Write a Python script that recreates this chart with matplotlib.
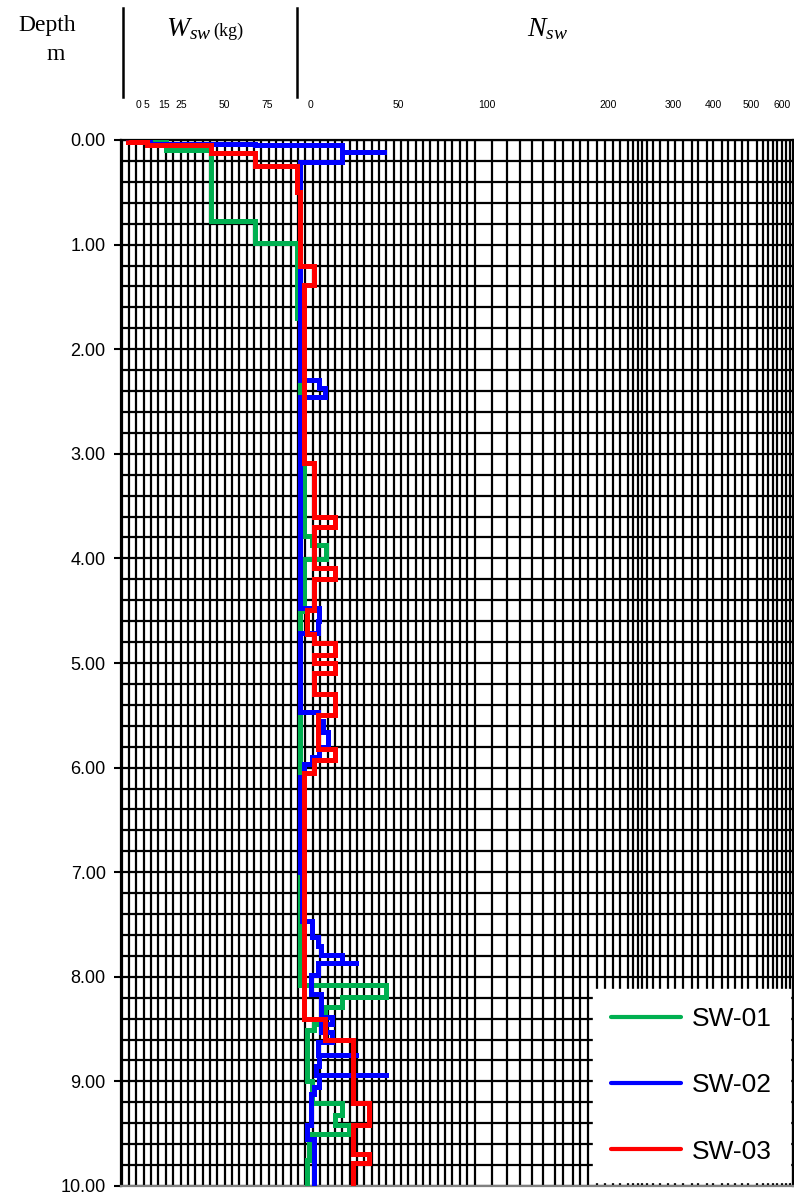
import numpy as np
import matplotlib
matplotlib.use("Agg")
import matplotlib.pyplot as plt
from matplotlib.lines import Line2D
from matplotlib.transforms import ScaledTranslation

# -----------------------------
# Swedish weight sounding data
# depth boundaries (m), W_sw load (kg), N_sw half-turns per metre
# -----------------------------
sw01_depth = [0.00, 0.00, 0.10, 0.77, 0.98, 1.70, 3.10, 3.79, 3.87, 4.01, 4.50,
              8.08, 8.19, 8.29, 8.45, 8.51, 9.00, 9.21, 9.32, 9.42, 9.50, 9.75, 10.00]
sw01_wsw = [12, 22, 48, 74, 98, 100, 100, 100, 100, 100, 100,
            100, 100, 100, 100, 100, 100, 100, 100, 100, 100, 100]
sw01_nsw = [0, 0, 0, 0, 0, 0, 2, 7, 15, 2, 0,
            49, 24, 14, 8, 4, 7, 24, 20, 28, 5, 4]

sw02_depth = [0.00, 0.01, 0.04, 0.05, 0.11, 0.11, 0.21, 2.29, 2.37, 2.46, 4.47,
              4.60, 4.71, 5.47, 5.55, 5.66, 5.80, 5.90, 5.97, 6.09, 7.00, 7.47,
              7.62, 7.71, 7.79, 7.87, 7.87, 7.98, 8.16, 8.38, 8.45, 8.53, 8.62,
              8.75, 8.75, 8.85, 8.94, 8.94, 9.05, 9.12, 9.42, 9.55, 10.00]
sw02_wsw = [0, 13, 74, 100, 100, 100, 100, 100, 100, 100,
            100, 100, 100, 100, 100, 100, 100, 100, 100, 100, 100,
            100, 100, 100, 100, 100, 100, 100, 100, 100, 100, 100,
            100, 100, 100, 100, 100, 100, 100, 100, 100, 100]
sw02_nsw = [0, 0, 0, 24, 49, 24, 0, 11, 14, 0,
            11, 10, 0, 10, 13, 16, 11, 7, 2, 0, 1,
            7, 10, 12, 24, 33, 10, 6, 12, 18, 12, 18,
            10, 33, 11, 9, 50, 11, 8, 6, 4, 8]

sw03_depth = [0.00, 0.02, 0.05, 0.125, 0.25, 0.50, 1.20, 1.39, 3.09, 3.60, 3.70,
              4.09, 4.20, 4.49, 4.72, 4.81, 4.92, 5.00, 5.10, 5.30, 5.50, 5.82,
              5.93, 6.05, 8.40, 8.60, 9.21, 9.42, 9.69, 9.78, 10.00]
sw03_wsw = [0, 11, 48, 74, 98, 100, 100, 100, 100, 100,
            100, 100, 100, 100, 100, 100, 100, 100, 100, 100, 100,
            100, 100, 100, 100, 100, 100, 100, 100, 100]
sw03_nsw = [0, 0, 0, 0, 0, 0, 8, 2, 8, 20,
            8, 20, 8, 4, 8, 20, 8, 20, 8, 20, 10,
            20, 8, 2, 14, 30, 39, 30, 39, 30]

series = [
    ("SW-01", sw01_depth, sw01_wsw, sw01_nsw, "#00B050"),
    ("SW-02", sw02_depth, sw02_wsw, sw02_nsw, "#0000FF"),
    ("SW-03", sw03_depth, sw03_wsw, sw03_nsw, "#FF0000"),
]

# top scale labels: W_sw (kg) then N_sw, on one combined axis (W + N)
wsw_ticks = [0, 5, 15, 25, 50, 75]
nsw_ticks = [0, 50, 100, 200, 300, 400, 500, 600]

# -----------------------------
# Figure layout (pixels)
# -----------------------------
FW, FH, DPI = 794, 1196, 100
L, R, T, B = 121, 793, 140, 1186

plt.rcParams["font.family"] = ["Liberation Sans", "DejaVu Sans"]
plt.rcParams["mathtext.fontset"] = "custom"
plt.rcParams["mathtext.rm"] = "Liberation Serif"
plt.rcParams["mathtext.it"] = "Liberation Serif:italic"

fig = plt.figure(figsize=(FW / DPI, FH / DPI), dpi=DPI)
ax = fig.add_axes([L / FW, 1 - B / FH, (R - L) / FW, (B - T) / FH])

# piecewise combined scale: W_sw 0..100 kg, then N_sw compressed towards 600
C_ANCHOR = [-4.07, 0, 100, 150, 200, 300, 400, 500, 600, 700, 768]
PX_ANCHOR = [121, 128, 300, 388, 477, 598, 663, 703, 741, 772, 793]


def fwd(c):
    return np.interp(c, C_ANCHOR, PX_ANCHOR)


def inv(p):
    return np.interp(p, PX_ANCHOR, C_ANCHOR)


ax.set_xscale("function", functions=(fwd, inv))
ax.set_xlim(C_ANCHOR[0], C_ANCHOR[-1])
ax.set_ylim(10, 0)

# grid
grid_px = list(np.arange(121.7, 478, 7.35)) + [
    492, 507, 520, 532, 543, 555, 563, 573, 580, 588, 597, 605, 613, 620, 628,
    633, 638, 642, 647, 653, 660, 668, 675, 683, 692, 698, 707, 713, 722, 728,
    735, 742, 748, 757, 763, 768, 773, 777, 782, 786, 790]
grid_frac = [(p - L) / (R - L) for p in grid_px]
ax.vlines(grid_frac, 0, 1, transform=ax.transAxes, colors="black", lw=1.6, zorder=1)
ax.hlines(np.arange(0, 10.01, 0.2), 0, 1, transform=ax.get_yaxis_transform(),
          colors="black", lw=1.6, zorder=1)

# step profiles
for name, depth, wsw, nsw, color in series:
    xs, ys = [], []
    for i in range(len(wsw)):
        c = wsw[i] + nsw[i]
        xs += [c, c]
        ys += [depth[i], depth[i + 1]]
    ax.plot(xs, ys, color=color, lw=3.6, label=name, zorder=3,
            solid_joinstyle="miter", solid_capstyle="butt")

# axes cosmetics
ax.set_xticks([])
ax.set_yticks(np.arange(0, 11, 1))
ax.set_yticklabels([f"{v:.2f}" for v in np.arange(0, 11, 1)])
ax.tick_params(axis="y", length=5, width=1.5, pad=6, labelsize=13)
for s in ax.spines.values():
    s.set_linewidth(1.6)
    s.set_color("black")
ax.spines["bottom"].set_color("#808080")

# top scale labels, nudged right of their positions
shift = ScaledTranslation(0.10, 0, fig.dpi_scale_trans)
top_trans = ax.get_xaxis_transform() + shift
top_vals = wsw_ticks + [100 + n for n in nsw_ticks]
top_labels = [str(v) for v in wsw_ticks] + [str(n) for n in nsw_ticks]
for v, lab in zip(top_vals, top_labels):
    ax.text(v, 1 + (140 - 105.5) / (B - T), lab, transform=top_trans,
            ha="center", va="center", fontsize=7.5)

# header
def fx(px):
    return px / FW


def fy(py):
    return 1 - py / FH


fig.text(fx(47), fy(31), "Depth", ha="center", va="baseline",
         family="Liberation Serif", fontsize=17)
fig.text(fx(56), fy(60), "m", ha="center", va="baseline",
         family="Liberation Serif", fontsize=17)
fig.text(fx(166), fy(36), r"$W_{sw}$", ha="left", va="baseline", fontsize=20)
fig.text(fx(213), fy(36), "(kg)", ha="left", va="baseline",
         family="Liberation Serif", fontsize=13)
fig.text(fx(527), fy(36), r"$N_{sw}$", ha="left", va="baseline", fontsize=20)

for xp in (123, 297):
    fig.add_artist(Line2D([fx(xp), fx(xp)], [fy(8), fy(97)], color="black",
                          lw=1.8, transform=fig.transFigure))

leg = ax.legend(loc="lower right",
                bbox_to_anchor=((790 - L) / (R - L), (B - 1182) / (B - T)),
                borderaxespad=0, fontsize=19, handlelength=2.65,
                handletextpad=0.4, labelspacing=1.6, borderpad=0.7,
                frameon=True, fancybox=False, framealpha=1,
                edgecolor="white", facecolor="white")
leg.set_zorder(5)
for h in leg.get_lines():
    h.set_linewidth(3.0)
    h.set_solid_capstyle("round")

fig.savefig("out.png", dpi=DPI)
